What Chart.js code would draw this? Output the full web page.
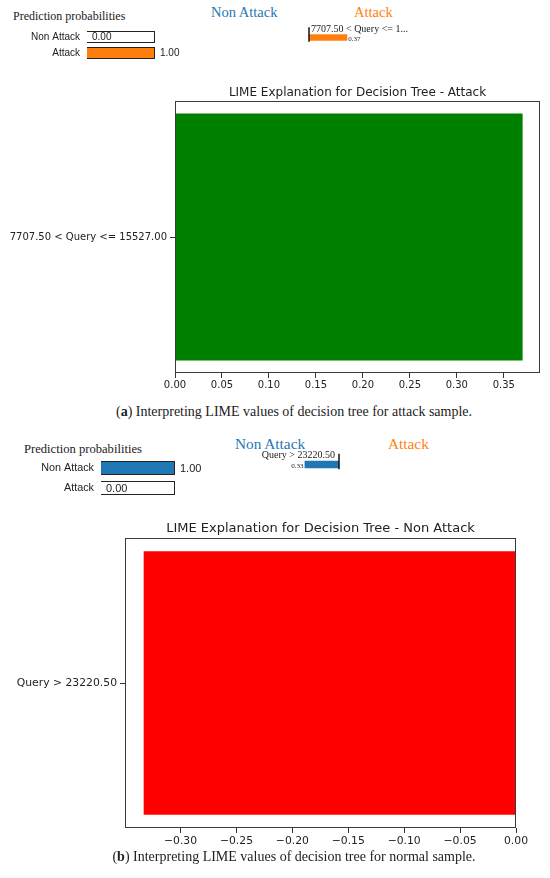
<!DOCTYPE html>
<html>
<head>
<meta charset="utf-8">
<script src="https://cdn.jsdelivr.net/npm/chart.js@4.4.1/dist/chart.umd.min.js"></script>
<style>
  html, body { margin: 0; padding: 0; background: #fff; }
  #page { position: relative; width: 550px; height: 878px; overflow: hidden; }
  .txt { position: absolute; white-space: nowrap; line-height: 1; color: #222; }
  .serif { font-family: "Liberation Serif", "Times New Roman", serif; }
  canvas { position: absolute; }
</style>
</head>
<body>
<div id="page">
  <div class="txt serif" style="left:13px;top:10px;font-size:12px">Prediction probabilities</div>
  <div class="txt serif" style="left:211px;top:5px;font-size:14.5px;color:#1f77b4">Non Attack</div>
  <div class="txt serif" style="left:354px;top:5px;font-size:14.5px;color:#ff7f0e">Attack</div>

  <div class="txt serif" style="left:24px;top:443px;font-size:12.6px">Prediction probabilities</div>
  <div class="txt serif" style="left:235px;top:436px;font-size:15.3px;color:#1f77b4">Non Attack</div>
  <div class="txt serif" style="left:388px;top:436px;font-size:15.3px;color:#ff7f0e">Attack</div>
</div>
<script>
// ---- data ----
const classLabels = ["Non Attack", "Attack"];
const classColors = ["#1f77b4", "#ff7f0e"];

// (a) attack sample
const probsA = [0.00, 1.00];
const expLabelA = "7707.50 < Query <= 1...";
const featuresA = ["7707.50 < Query <= 15527.00"];
const weightsA = [0.37];
const ticksA = [0, 0.05, 0.10, 0.15, 0.20, 0.25, 0.30, 0.35];

// (b) normal sample
const probsB = [1.00, 0.00];
const expLabelB = "Query > 23220.50";
const featuresB = ["Query > 23220.50"];
const weightsB = [-0.333];
const ticksB = [-0.30, -0.25, -0.20, -0.15, -0.10, -0.05, 0.00];

const captionA = "(<b>a</b>) Interpreting LIME values of decision tree for attack sample.";
const captionB = "(<b>b</b>) Interpreting LIME values of decision tree for normal sample.";

const page = document.getElementById("page");

function makeCanvas(left, top, w, h) {
  const c = document.createElement("canvas");
  c.width = w; c.height = h;
  c.style.left = left + "px"; c.style.top = top + "px";
  c.style.width = w + "px"; c.style.height = h + "px";
  page.appendChild(c);
  return c;
}

function addText(html, css) {
  const d = document.createElement("div");
  d.className = "txt serif";
  d.innerHTML = html;
  d.style.cssText += css;
  page.appendChild(d);
}

function fmt(v) {
  if (Math.abs(v) < 1e-9) return "0.00";
  return v < 0 ? "\u2212" + (-v).toFixed(2) : v.toFixed(2);
}

// box round the plot area, like matplotlib spines
const frameBox = {
  id: "frameBox",
  afterDatasetsDraw(chart) {
    const a = chart.chartArea, ctx = chart.ctx;
    ctx.save();
    ctx.strokeStyle = "#3a3a3a";
    ctx.lineWidth = 1;
    ctx.strokeRect(Math.round(a.left) + 0.5, Math.round(a.top) + 0.5,
      Math.round(a.right - a.left) - 1, Math.round(a.bottom - a.top) - 1);
    ctx.restore();
  }
};

// value text next to the probability bars
const probLabels = {
  id: "probLabels",
  afterDatasetsDraw(chart, args, opts) {
    const ctx = chart.ctx;
    const meta = chart.getDatasetMeta(1);
    ctx.save();
    ctx.font = opts.size + "px 'Liberation Sans', Arial, sans-serif";
    ctx.fillStyle = "#222";
    ctx.textBaseline = "middle";
    ctx.textAlign = "left";
    meta.data.forEach((bar, i) => {
      const v = chart.data.datasets[1].data[i];
      ctx.fillText(v.toFixed(2), bar.x + 5, bar.y + 0.5);
    });
    ctx.restore();
  }
};

// LIME explanation text, zero line and weight
const explLabels = {
  id: "explLabels",
  afterDatasetsDraw(chart, args, opts) {
    const ctx = chart.ctx;
    const bar = chart.getDatasetMeta(0).data[0];
    const w = chart.data.datasets[0].data[0];
    const x0 = chart.scales.x.getPixelForValue(0);
    const top = bar.y - bar.height / 2, bottom = bar.y + bar.height / 2;
    ctx.save();
    ctx.strokeStyle = "#111";
    ctx.lineWidth = 1.5;
    ctx.beginPath();
    ctx.moveTo(x0, top - 7);
    ctx.lineTo(x0, bottom + 1);
    ctx.stroke();
    ctx.fillStyle = "#222";
    ctx.textBaseline = "alphabetic";
    ctx.font = "10px 'Liberation Serif', 'Times New Roman', serif";
    ctx.textAlign = w > 0 ? "left" : "right";
    ctx.fillText(opts.text, w > 0 ? x0 + 2 : x0 - 4, top - 2.5);
    ctx.font = "7px 'Liberation Serif', 'Times New Roman', serif";
    ctx.fillText(Math.abs(w).toFixed(2), w > 0 ? bar.x + 1 : bar.x - 1, bottom);
    ctx.restore();
  }
};

function probChart(canvas, probs, o) {
  return new Chart(canvas, {
    type: "bar",
    data: {
      labels: classLabels,
      datasets: [
        { data: classLabels.map(() => 1), backgroundColor: "rgba(0,0,0,0)", borderColor: "#222",
          borderWidth: 1, grouped: false, categoryPercentage: 1, barPercentage: o.bp },
        { data: probs, backgroundColor: classColors, borderWidth: 0,
          grouped: false, categoryPercentage: 1, barPercentage: o.bp }
      ]
    },
    options: {
      indexAxis: "y", responsive: false, animation: false, devicePixelRatio: 1,
      layout: { padding: { left: 0, right: o.padRight, top: o.padTop, bottom: o.padBottom } },
      plugins: { legend: { display: false }, tooltip: { enabled: false }, probLabels: { size: o.valSize } },
      scales: {
        x: { display: false, min: 0, max: 1 },
        y: {
          afterFit: s => { s.width = o.yW; s.paddingTop = 0; s.paddingBottom = 0; },
          border: { display: false },
          grid: { display: false, drawTicks: false },
          ticks: { padding: 7, color: "#222", font: { family: "'Liberation Sans', Arial, sans-serif", size: o.labSize } }
        }
      }
    },
    plugins: [probLabels]
  });
}

function explChart(canvas, text, weights, o) {
  return new Chart(canvas, {
    type: "bar",
    data: {
      labels: [text],
      datasets: [{ data: weights, backgroundColor: o.color, borderWidth: 0,
        categoryPercentage: 1, barPercentage: 0.5 }]
    },
    options: {
      indexAxis: "y", responsive: false, animation: false, devicePixelRatio: 1,
      layout: { padding: { top: o.padTop } },
      plugins: { legend: { display: false }, tooltip: { enabled: false }, explLabels: { text } },
      scales: { x: { display: false, min: -1.2, max: 1.2 }, y: { display: false } }
    },
    plugins: [explLabels]
  });
}

function mainChart(canvas, labels, values, o) {
  return new Chart(canvas, {
    type: "bar",
    data: {
      labels,
      datasets: [{ data: values, backgroundColor: o.color, borderWidth: 0,
        categoryPercentage: 1, barPercentage: 0.909 }]
    },
    options: {
      indexAxis: "y", responsive: false, animation: false, devicePixelRatio: 1,
      layout: { padding: { left: 0, right: o.padRight, top: 0, bottom: 0 } },
      plugins: {
        legend: { display: false }, tooltip: { enabled: false },
        title: {
          display: true, text: o.title, fullSize: false, color: "#222",
          font: { family: "'DejaVu Sans', sans-serif", size: o.titleSize, weight: "normal" },
          padding: o.titlePad
        }
      },
      scales: {
        x: {
          min: o.min, max: o.max,
          afterBuildTicks: s => { s.ticks = o.ticks.map(v => ({ value: v })); },
          afterFit: s => { s.height = o.xH; },
          border: { display: false },
          grid: { drawOnChartArea: false, tickLength: 5, color: "#333" },
          ticks: { padding: o.xPad, color: "#222", maxRotation: 0, autoSkip: false,
            font: { family: "'DejaVu Sans', sans-serif", size: o.tickSize },
            callback: v => fmt(v) }
        },
        y: {
          afterFit: s => { s.width = o.yW; },
          border: { display: false },
          grid: { drawOnChartArea: false, offset: false, tickLength: 5, color: "#333" },
          ticks: { padding: 3, color: "#222",
            font: { family: "'DejaVu Sans', sans-serif", size: o.tickSize } }
        }
      }
    },
    plugins: [frameBox]
  });
}

// ---- (a) ----
probChart(makeCanvas(0, 26, 200, 40), probsA,
  { bp: 0.75, yW: 87, padRight: 45, padTop: 3, padBottom: 5, labSize: 10, valSize: 10 });
explChart(makeCanvas(185, 20, 248, 24), expLabelA, weightsA, { color: "#ff7f0e", padTop: 11 });
mainChart(makeCanvas(0, 75, 550, 325), featuresA, weightsA, {
  color: "#008000", title: "LIME Explanation for Decision Tree - Attack",
  titleSize: 12, titlePad: { top: 10.5, bottom: 1.1 },
  min: 0, max: 0.3885, ticks: ticksA, xH: 27, xPad: 1, yW: 175, padRight: 10, tickSize: 10
});
addText(captionA, "left:44px;width:500px;text-align:center;top:405px;font-size:14px");

// ---- (b) ----
probChart(makeCanvas(0, 455, 210, 46), probsB,
  { bp: 0.7, yW: 101, padRight: 35, padTop: 3, padBottom: 3, labSize: 10.8, valSize: 11 });
explChart(makeCanvas(215, 446, 248, 26), expLabelB, weightsB, { color: "#1f77b4", padTop: 11 });
mainChart(makeCanvas(0, 508, 550, 350), featuresB, weightsB, {
  color: "#ff0000", title: "LIME Explanation for Decision Tree - Non Attack",
  titleSize: 13, titlePad: { top: 12.5, bottom: 1.9 },
  min: -0.3497, max: 0, ticks: ticksB, xH: 30, xPad: 1.5, yW: 125, padRight: 34, tickSize: 10.8
});
addText(captionB, "left:44px;width:500px;text-align:center;top:850px;font-size:14px");
</script>
</body>
</html>
